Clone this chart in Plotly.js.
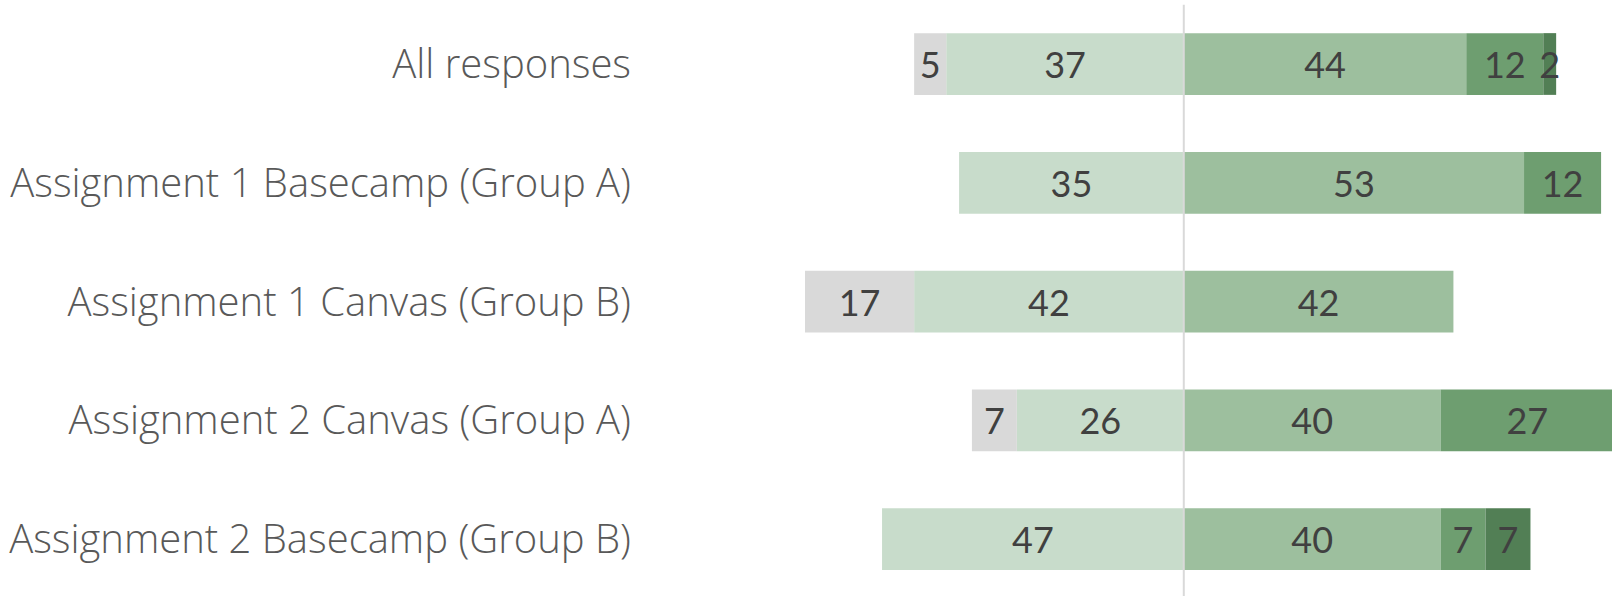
<!DOCTYPE html>
<html>
<head>
<meta charset="utf-8">
<script src="https://cdn.plot.ly/plotly-3.0.1.min.js"></script>
<style>html,body{margin:0;padding:0;background:#fff;}#chart{width:1612px;height:596px;}</style>
</head>
<body>
<div id="chart"></div>
<script>
const categories = [
  "All responses",
  "Assignment 1 Basecamp (Group A)",
  "Assignment 1 Canvas (Group B)",
  "Assignment 2 Canvas (Group A)",
  "Assignment 2 Basecamp (Group B)"
];
// negative side (shown left of centre)
const greyNeg   = [5, null, 17, 7, null];
const lightNeg  = [37, 35, 42, 26, 47];
// positive side
const medPos    = [44, 53, 42, 40, 40];
const darkPos   = [12, 12, null, 27, 7];
const darkestPos= [2, null, null, null, 7];

const colors = ["#c8dccb", "#d9d9d9", "#9dbf9e", "#6e9e70", "#527f55"];
const series = [
  {vals: lightNeg, sign: -1, color: colors[0]},
  {vals: greyNeg, sign: -1, color: colors[1]},
  {vals: medPos, sign: 1, color: colors[2]},
  {vals: darkPos, sign: 1, color: colors[3]},
  {vals: darkestPos, sign: 1, color: colors[4]}
];
const numFont = "Lato, 'Open Sans', sans-serif";
const labelFont = "'Open Sans', Lato, sans-serif";
const traces = series.map(s => ({
  type: "bar",
  orientation: "h",
  y: categories,
  x: s.vals.map(v => v == null ? null : s.sign * v),
  text: s.vals.map(v => v == null ? "" : String(v)),
  textposition: "inside",
  insidetextanchor: "middle",
  textangle: 0,
  textfont: {family: numFont, size: 36, color: "#404040"},
  marker: {color: s.color, line: {width: 0}},
  width: 0.52,
  hoverinfo: "skip",
  cliponaxis: true
}));

const layout = {
  width: 1612, height: 596,
  margin: {l: 640, r: 0, t: 0, b: 0},
  barmode: "relative",
  showlegend: false,
  paper_bgcolor: "#fff",
  plot_bgcolor: "#fff",
  uniformtext: {mode: "show", minsize: 36},
  xaxis: {range: [-84.7, 66.7], showgrid: false, zeroline: false, showticklabels: false, ticks: "", fixedrange: true},
  yaxis: {type: "category", range: [4.48, -0.539], showgrid: false, zeroline: false, ticks: "", ticklabelstandoff: 8,
          tickfont: {family: labelFont, size: 40, color: "#595959", weight: 300}, automargin: false},
  shapes: [{type: "line", xref: "x", yref: "paper", x0: 0, x1: 0, y0: 0, y1: 0.992,
            line: {color: "#d9d9d9", width: 2}, layer: "above"}]
};
Plotly.newPlot("chart", traces, layout, {displayModeBar: false, staticPlot: true});
</script>
</body>
</html>
